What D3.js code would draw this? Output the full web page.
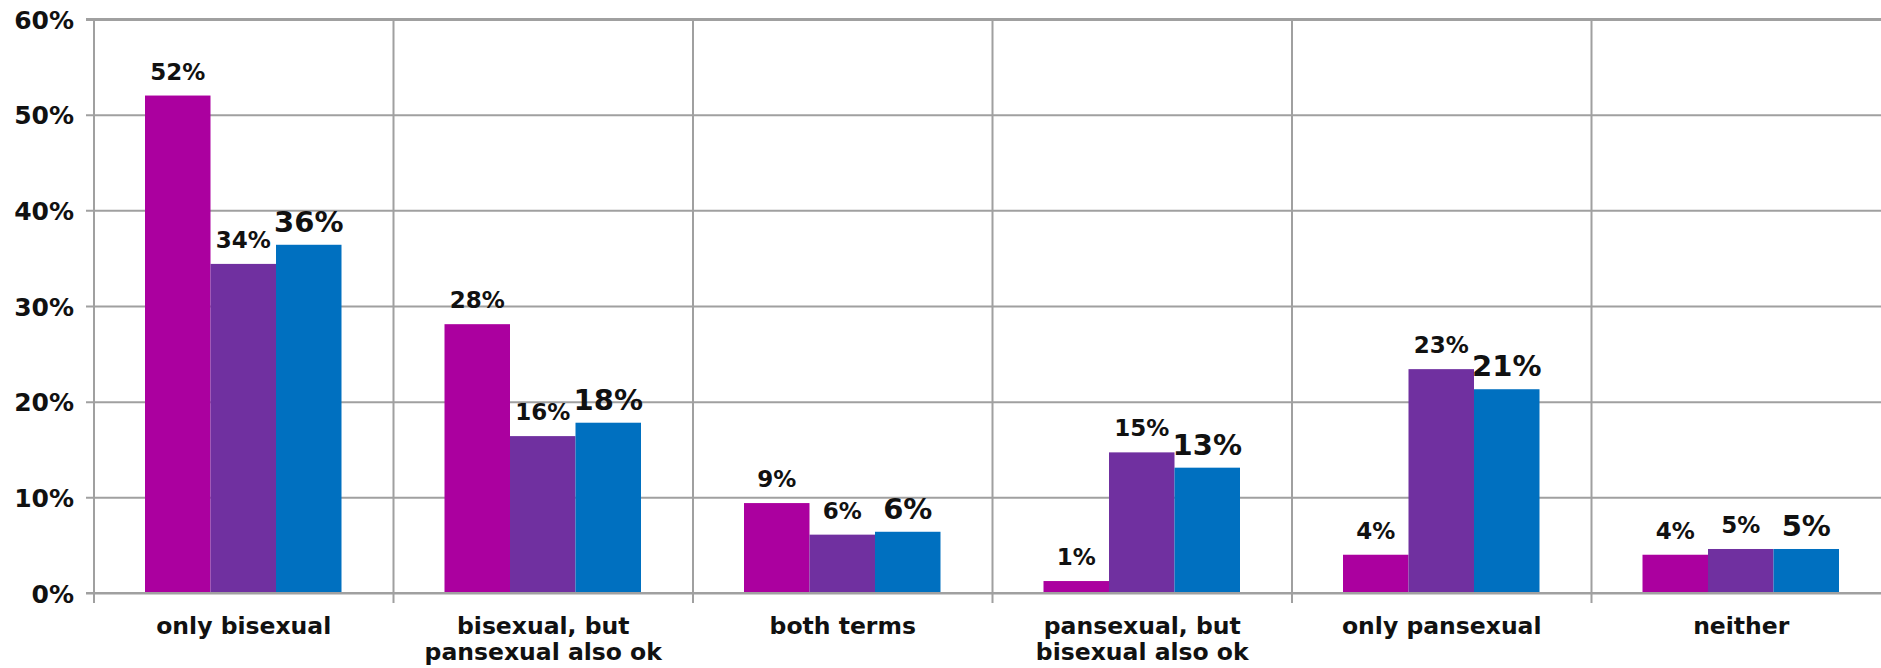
<!DOCTYPE html>
<html>
<head>
<meta charset="utf-8">
<script src="https://cdn.jsdelivr.net/npm/d3@7"></script>
<style>
  html, body { margin: 0; padding: 0; background: #fff; overflow: hidden; }
  svg { display: block; }
  text { font-family: "DejaVu Sans", Verdana, sans-serif; font-weight: bold; fill: #111; }
</style>
</head>
<body>
<svg id="chart" width="1881" height="668"></svg>
<script>
// ---- data ----
const categories = [
  ["only bisexual"],
  ["bisexual, but", "pansexual also ok"],
  ["both terms"],
  ["pansexual, but", "bisexual also ok"],
  ["only pansexual"],
  ["neither"]
];
const seriesNames = ["series1", "series2", "series3"];
const series1 = [0.52, 0.281, 0.094, 0.0125, 0.040, 0.040];
const series2 = [0.344, 0.164, 0.061, 0.147, 0.234, 0.046];
const series3 = [0.364, 0.178, 0.064, 0.131, 0.213, 0.046];
const seriesColors = ["#AB009F", "#7030A0", "#0070C0"];
const yTicks = [0, 0.1, 0.2, 0.3, 0.4, 0.5, 0.6];

// ---- layout ----
const svg = d3.select("#chart");
const plotLeft = 94, catW = 299.5;
const plotTop = 19, plotBottom = 593;
const catKeys = categories.map((c, i) => i);
const x = d3.scaleBand().domain(catKeys).range([plotLeft, plotLeft + catW * categories.length]).paddingInner(0).paddingOuter(0);
const xs = d3.scaleBand().domain(seriesNames).range([51, 51 + 196.5]).padding(0);
const y = d3.scaleLinear().domain([0, 0.6]).range([plotBottom, plotTop]);
const plotRight = plotLeft + catW * categories.length;

// horizontal gridlines + y axis labels
const yAxis = d3.axisLeft(y).tickValues(yTicks).tickFormat(d3.format(".0%"))
  .tickSizeInner(-(plotRight - plotLeft)).tickSizeOuter(0).tickPadding(20);
const gy = svg.append("g").attr("transform", `translate(${plotLeft},0)`).call(yAxis);
gy.select(".domain").remove();
gy.selectAll(".tick line").attr("x1", -8).attr("stroke", "#a0a0a0").attr("stroke-width", 2);
gy.selectAll(".tick").filter(d => d === 0.6).select("line").attr("stroke-width", 3);
gy.selectAll(".tick text").style("font-size", "25px").attr("fill", "#111").attr("dy", "0.36em");

// vertical category dividers (incl. axis)
const boundaries = catKeys.map(k => x(k)).concat([plotRight]);
svg.append("g").selectAll("line").data(boundaries).join("line")
  .attr("x1", d => d).attr("x2", d => d)
  .attr("y1", plotTop).attr("y2", plotBottom + 10)
  .attr("stroke", "#a0a0a0").attr("stroke-width", 2);

// bars
const allSeries = [series1, series2, series3];
const groups = svg.append("g").selectAll("g").data(catKeys).join("g")
  .attr("transform", k => `translate(${x(k)},0)`);
groups.selectAll("rect").data(k => allSeries.map((s, i) => ({ name: seriesNames[i], v: s[k], i })))
  .join("rect")
  .attr("x", d => xs(d.name))
  .attr("width", xs.bandwidth())
  .attr("y", d => y(d.v))
  .attr("height", d => y(0) - y(d.v))
  .attr("fill", d => seriesColors[d.i]);

// value labels
const fmt = d3.format(".0%");
groups.selectAll("text.val").data(k => allSeries.map((s, i) => ({ name: seriesNames[i], v: s[k], i })))
  .join("text").attr("class", "val")
  .attr("x", d => xs(d.name) + xs.bandwidth() / 2)
  .attr("y", d => y(d.v) - (d.i === 2 ? 13 : 16))
  .attr("text-anchor", "middle")
  .style("font-size", d => d.i === 2 ? "29px" : "23px")
  .text(d => fmt(d.v));

// baseline on top of bars
svg.append("line").attr("x1", plotLeft - 8).attr("x2", plotRight)
  .attr("y1", y(0)).attr("y2", y(0)).attr("stroke", "#a0a0a0").attr("stroke-width", 2);

// category labels
const catG = svg.append("g").selectAll("text").data(catKeys).join("text")
  .attr("text-anchor", "middle")
  .attr("x", k => x(k) + x.bandwidth() / 2)
  .attr("y", 634)
  .style("font-size", "23.5px");
catG.selectAll("tspan").data(k => categories[k]).join("tspan")
  .attr("x", function () { return d3.select(this.parentNode).attr("x"); })
  .attr("dy", (d, i) => i === 0 ? 0 : 26)
  .text(d => d);
</script>
</body>
</html>
